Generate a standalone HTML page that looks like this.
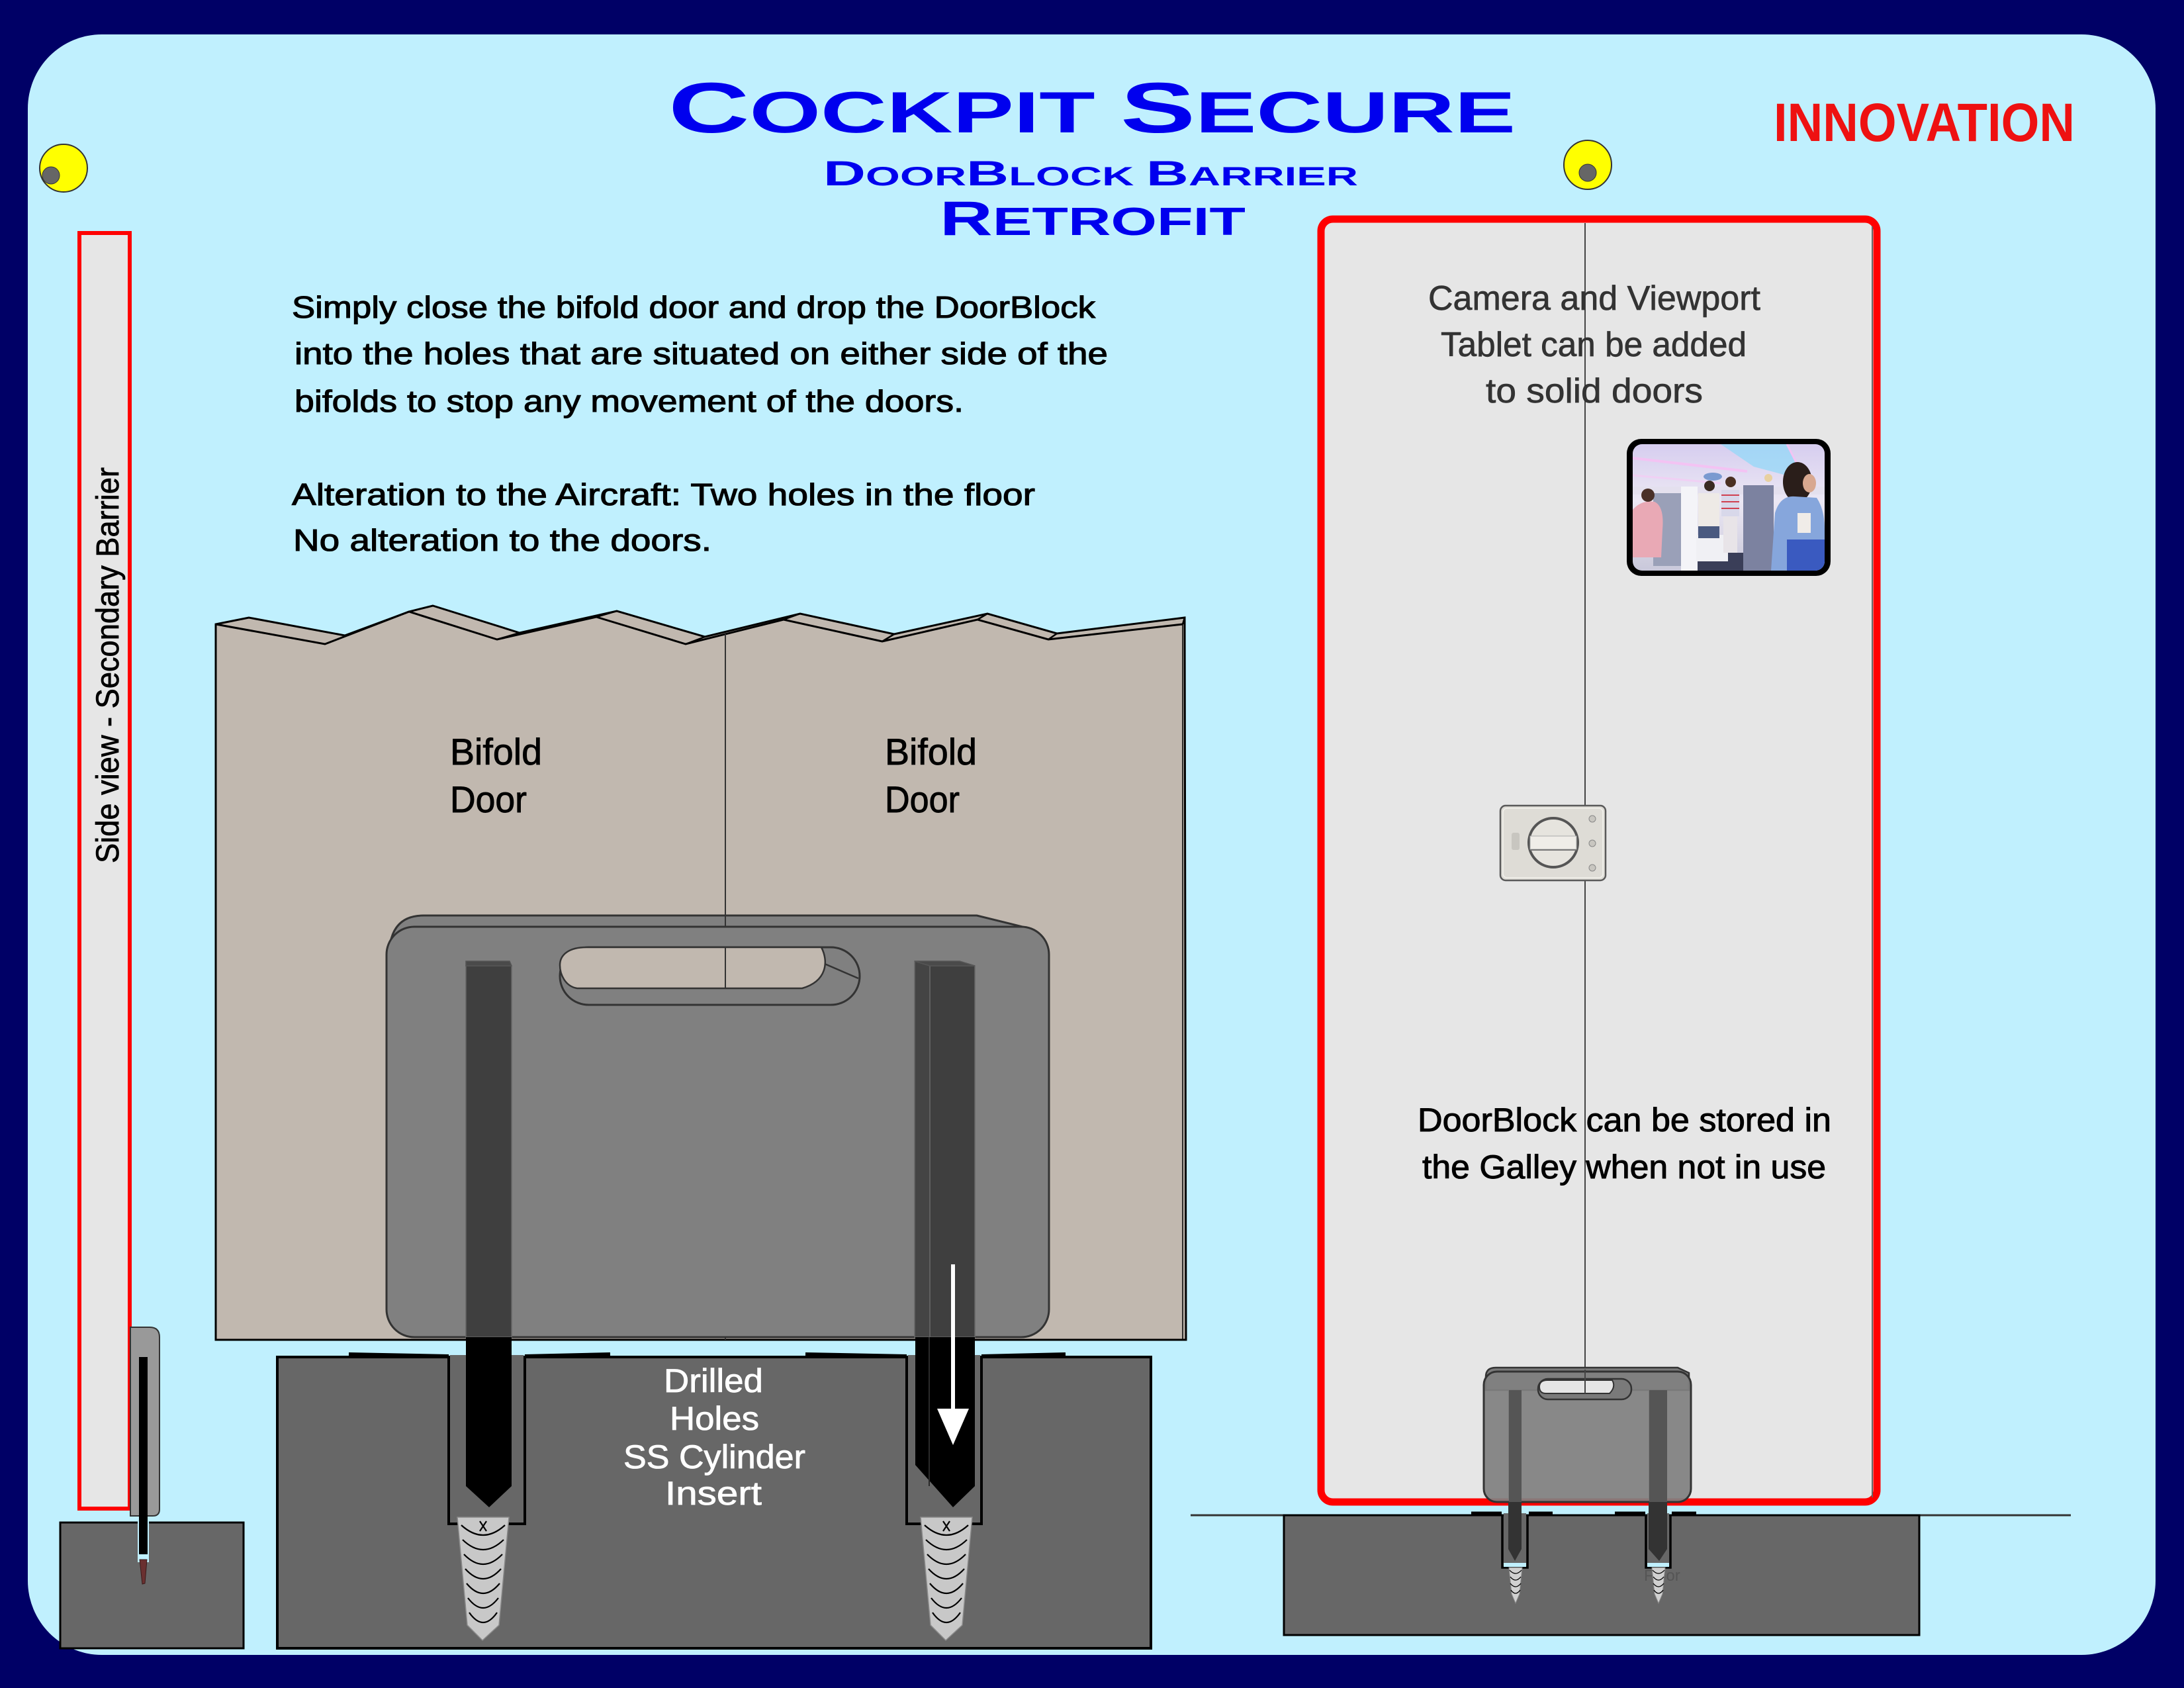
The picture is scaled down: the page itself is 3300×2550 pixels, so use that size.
<!DOCTYPE html>
<html><head><meta charset="utf-8"><style>
html,body{margin:0;padding:0;background:#000066;}
svg{display:block;}
text{font-family:"Liberation Sans",sans-serif;}
</style></head><body>
<svg width="3300" height="2550" viewBox="0 0 3300 2550" xmlns="http://www.w3.org/2000/svg">
<defs>
<g id="screw">
<polygon points="691,2292 769,2292 754,2455 729,2478 706,2455" fill="#C8C8C8" stroke="#8a8a8a" stroke-width="1.5"/>
<g fill="none" stroke="#000" stroke-width="2.2">
<path d="M697,2304 Q730,2334 763,2304"/>
<path d="M699,2326 Q730,2356 761,2326"/>
<path d="M701,2348 Q730,2378 759,2348"/>
<path d="M703,2370 Q730,2400 757,2370"/>
<path d="M705,2392 Q730,2422 755,2392"/>
<path d="M707,2414 Q730,2444 753,2414"/>
<path d="M709,2436 Q730,2466 751,2436"/>
<path d="M725,2298 L735,2313 M735,2298 L725,2313"/>
</g>
</g>
<g id="sscrew">
<polygon points="-10,2368 10,2368 6,2408 0,2422 -6,2408" fill="#D0D0D0" stroke="#888" stroke-width="1"/>
<g fill="none" stroke="#000" stroke-width="1.3">
<path d="M-9,2372 Q0,2382 9,2372"/>
<path d="M-8,2382 Q0,2392 8,2382"/>
<path d="M-8,2392 Q0,2402 8,2392"/>
<path d="M-7,2402 Q0,2412 7,2402"/>
</g>
</g>
<clipPath id="tab"><rect x="2467" y="671" width="290" height="191" rx="14"/></clipPath>
<linearGradient id="cab" x1="0" y1="0" x2="0" y2="1">
<stop offset="0" stop-color="#d6cdef"/><stop offset="0.45" stop-color="#ece8f4"/><stop offset="1" stop-color="#c9c8da"/>
</linearGradient>
</defs>

<rect width="3300" height="2550" fill="#000066"/>
<rect x="42" y="52" width="3215" height="2448" rx="112" fill="#C0F0FE"/>

<!-- yellow markers -->
<circle cx="96" cy="254" r="36" fill="#FFFF00" stroke="#333" stroke-width="2"/>
<circle cx="77" cy="265" r="13" fill="#666" stroke="#333" stroke-width="1"/>
<ellipse cx="2399" cy="249" rx="36" ry="37" fill="#FFFF00" stroke="#333" stroke-width="2"/>
<ellipse cx="2399" cy="261" rx="13" ry="13" fill="#666" stroke="#333" stroke-width="1"/>

<!-- titles -->
<text x="1010" y="200" textLength="1280" lengthAdjust="spacingAndGlyphs" fill="#0000EE" font-weight="bold"><tspan font-size="108">C</tspan><tspan font-size="88">OCKPIT </tspan><tspan font-size="108">S</tspan><tspan font-size="88">ECURE</tspan></text>
<text x="1244" y="280" textLength="808" lengthAdjust="spacingAndGlyphs" fill="#0000EE" font-weight="bold"><tspan font-size="53">D</tspan><tspan font-size="40">OOR</tspan><tspan font-size="53">B</tspan><tspan font-size="40">LOCK </tspan><tspan font-size="53">B</tspan><tspan font-size="40">ARRIER</tspan></text>
<text x="1420" y="355" textLength="462" lengthAdjust="spacingAndGlyphs" fill="#0000EE" font-weight="bold"><tspan font-size="73">R</tspan><tspan font-size="59">ETROFIT</tspan></text>
<text x="2680" y="213" textLength="455" lengthAdjust="spacingAndGlyphs" fill="#EE1111" font-weight="bold" font-size="82">INNOVATION</text>

<!-- paragraph -->
<g font-size="46" fill="#000" stroke="#000" stroke-width="1.1">
<text x="441" y="480" textLength="1214" lengthAdjust="spacingAndGlyphs">Simply close the bifold door and drop the DoorBlock</text>
<text x="445" y="550" textLength="1229" lengthAdjust="spacingAndGlyphs">into the holes that are situated on either side of the</text>
<text x="445" y="622" textLength="1011" lengthAdjust="spacingAndGlyphs">bifolds to stop any movement of the doors.</text>
<text x="441" y="763" textLength="1123" lengthAdjust="spacingAndGlyphs">Alteration to the Aircraft: Two holes in the floor</text>
<text x="443" y="832" textLength="632" lengthAdjust="spacingAndGlyphs">No alteration to the doors.</text>
</g>

<!-- left side view -->
<rect x="120" y="352" width="76" height="1927" fill="#E6E6E6" stroke="#FF0000" stroke-width="6"/>
<text transform="translate(179,1304) rotate(-90)" font-size="48" textLength="598" lengthAdjust="spacingAndGlyphs" fill="#000" stroke="#000" stroke-width="0.8">Side view - Secondary Barrier</text>
<path d="M197,2005 L226,2005 Q241,2005 241,2020 L241,2280 Q241,2290 231,2290 L197,2290 Z" fill="#999" stroke="#333" stroke-width="2"/>
<rect x="91" y="2300" width="277" height="190" fill="#676767" stroke="#000" stroke-width="3"/>
<rect x="208" y="2298" width="17" height="62" fill="#C0F0FE"/>
<rect x="210" y="2050" width="13" height="298" fill="#000"/>
<polygon points="211,2356 222,2356 219,2392 215,2393" fill="#6a3030" stroke="#3a1a1a" stroke-width="1"/>

<!-- bifold door -->
<polygon points="326,943 376,933 521,960 618,924 654,915 785,956 932,923 1065,962 1209,927 1351,958 1492,927 1597,957 1790,933 1792,2024 326,2024" fill="#C1B8AF" stroke="#000" stroke-width="3" stroke-linejoin="miter"/>
<polyline points="326,943 491,973 618,924 751,966 901,932 1036,973 1184,936 1333,969 1477,936 1584,966 1787,943" fill="none" stroke="#000" stroke-width="3"/>
<g stroke="#000" stroke-width="2.5">
<line x1="618" y1="924" x2="654" y2="915"/>
<line x1="751" y1="966" x2="785" y2="956"/>
<line x1="901" y1="932" x2="932" y2="923"/>
<line x1="1036" y1="973" x2="1065" y2="962"/>
<line x1="1184" y1="936" x2="1209" y2="927"/>
<line x1="1333" y1="969" x2="1351" y2="958"/>
<line x1="1477" y1="936" x2="1492" y2="927"/>
<line x1="1584" y1="966" x2="1597" y2="957"/>
<line x1="1787" y1="943" x2="1790" y2="933"/>
<line x1="1787" y1="943" x2="1787" y2="2024" stroke-width="1.5"/>
</g>
<line x1="1096" y1="958" x2="1096" y2="2024" stroke="#333" stroke-width="2"/>
<g font-size="56" fill="#000" stroke="#000" stroke-width="0.9">
<text x="680" y="1155" textLength="139" lengthAdjust="spacingAndGlyphs">Bifold</text>
<text x="680" y="1227" textLength="116" lengthAdjust="spacingAndGlyphs">Door</text>
<text x="1337" y="1155" textLength="139" lengthAdjust="spacingAndGlyphs">Bifold</text>
<text x="1337" y="1227" textLength="113" lengthAdjust="spacingAndGlyphs">Door</text>
</g>

<!-- main floor -->
<rect x="419" y="2050" width="1320" height="440" fill="#676767" stroke="#000" stroke-width="4"/>
<rect x="680" y="2047" width="111" height="6" fill="#676767"/>
<rect x="1372" y="2047" width="109" height="6" fill="#676767"/>
<g fill="none" stroke="#000">
<path d="M678,2050 V2302 H793 V2050" stroke-width="4"/>
<path d="M1370,2050 V2302 H1483 V2050" stroke-width="4"/>
<line x1="527" y1="2046" x2="678" y2="2049" stroke-width="6"/>
<line x1="793" y1="2049" x2="922" y2="2046" stroke-width="6"/>
<line x1="1217" y1="2046" x2="1370" y2="2049" stroke-width="6"/>
<line x1="1483" y1="2049" x2="1610" y2="2046" stroke-width="6"/>
</g>
<use href="#screw"/>
<use href="#screw" transform="translate(700,0)"/>
<g font-size="50" fill="#FFF" stroke="#FFF" stroke-width="0.8">
<text x="1003" y="2103" textLength="150" lengthAdjust="spacingAndGlyphs">Drilled</text>
<text x="1012" y="2160" textLength="135" lengthAdjust="spacingAndGlyphs">Holes</text>
<text x="942" y="2218" textLength="275" lengthAdjust="spacingAndGlyphs">SS Cylinder</text>
<text x="1005" y="2273" textLength="146" lengthAdjust="spacingAndGlyphs">Insert</text>
</g>

<!-- main doorblock -->
<path d="M588,1445 Q588,1383 640,1383 L1476,1383 L1553,1402 L1553,1500 L588,1500 Z" fill="#808080" stroke="#333" stroke-width="3"/>
<rect x="584" y="1400" width="1001" height="620" rx="42" fill="#808080" stroke="#333" stroke-width="3"/>
<rect x="846" y="1431" width="453" height="87" rx="43.5" fill="#808080" stroke="#333" stroke-width="3"/>
<path d="M886,1431 L1241,1431 C1252,1452 1250,1482 1212,1493 L872,1493 C854,1490 846,1472 846,1458 C846,1442 860,1431 886,1431 Z" fill="#C1B8AF" stroke="#333" stroke-width="2.5"/>
<line x1="1246" y1="1456" x2="1297" y2="1478" stroke="#333" stroke-width="2.5"/>
<line x1="1096" y1="1383" x2="1096" y2="1400" stroke="#333" stroke-width="2"/>
<line x1="1096" y1="1431" x2="1096" y2="1493" stroke="#333" stroke-width="2"/>
<!-- legs inside block -->
<rect x="704" y="1459" width="69" height="561" fill="#3f3f3f" stroke="#666" stroke-width="1.5"/>
<polygon points="704,1452 770,1452 773,1459 704,1459" fill="#4a4a4a" stroke="#555" stroke-width="1.5"/>
<rect x="1405" y="1459" width="68" height="561" fill="#3f3f3f" stroke="#666" stroke-width="1.5"/>
<polygon points="1382,1452 1405,1459 1405,2020 1382,2020" fill="#444" stroke="#666" stroke-width="1.5"/>
<polygon points="1382,1452 1450,1452 1473,1459 1405,1459" fill="#4a4a4a" stroke="#555" stroke-width="1.5"/>
<!-- legs below block -->
<polygon points="704,2020 773,2020 773,2245 739,2277 704,2245" fill="#000"/>
<polygon points="1383,2020 1473,2020 1473,2245 1440,2277 1383,2213" fill="#000"/>
<line x1="1404" y1="2020" x2="1404" y2="2245" stroke="#2a2a2a" stroke-width="2"/>
<!-- arrow -->
<line x1="1440" y1="1910" x2="1440" y2="2135" stroke="#FFF" stroke-width="6"/>
<polygon points="1416,2128 1464,2128 1440,2183" fill="#FFF"/>

<!-- right door -->
<rect x="1996" y="331" width="840" height="1938" rx="18" fill="#E6E6E6" stroke="#FF0000" stroke-width="11"/>
<line x1="2829" y1="342" x2="2829" y2="2262" stroke="#666" stroke-width="2"/>
<line x1="2395" y1="337" x2="2395" y2="2069" stroke="#444" stroke-width="2"/>
<g font-size="52" fill="#333" stroke="#333" stroke-width="0.7">
<text x="2158" y="468" textLength="502" lengthAdjust="spacingAndGlyphs">Camera and Viewport</text>
<text x="2177" y="538" textLength="462" lengthAdjust="spacingAndGlyphs">Tablet can be added</text>
<text x="2245" y="608" textLength="328" lengthAdjust="spacingAndGlyphs">to solid doors</text>
</g>
<g font-size="50" fill="#000" stroke="#000" stroke-width="1">
<text x="2142" y="1709" textLength="625" lengthAdjust="spacingAndGlyphs">DoorBlock can be stored in</text>
<text x="2149" y="1780" textLength="610" lengthAdjust="spacingAndGlyphs">the Galley when not in use</text>
</g>

<!-- tablet -->
<rect x="2458" y="663" width="308" height="207" rx="22" fill="#000"/>
<g clip-path="url(#tab)">
<rect x="2467" y="671" width="290" height="191" fill="url(#cab)"/>
<polygon points="2600,671 2700,671 2725,725 2650,705" fill="#8fd8f8" opacity="0.7"/>
<line x1="2467" y1="692" x2="2640" y2="712" stroke="#f3c3f3" stroke-width="4"/>
<line x1="2467" y1="718" x2="2600" y2="730" stroke="#f0d0f4" stroke-width="3"/>
<line x1="2700" y1="671" x2="2725" y2="720" stroke="#f3c3f3" stroke-width="3"/>
<rect x="2467" y="735" width="290" height="12" fill="#e4e0ee"/>
<rect x="2498" y="745" width="47" height="110" fill="#9aa0b8"/>
<path d="M2467,770 Q2480,755 2500,758 Q2515,765 2512,800 L2510,842 L2467,842 Z" fill="#e9a9b5"/>
<circle cx="2490" cy="748" r="10" fill="#4a3028"/>
<rect x="2540" y="735" width="25" height="127" fill="#f4f4f8"/>
<rect x="2565" y="835" width="115" height="27" fill="#3a3e58"/>
<rect x="2563" y="808" width="48" height="40" fill="#f0f0f4"/>
<rect x="2566" y="745" width="32" height="50" fill="#eeeae6"/>
<rect x="2566" y="795" width="32" height="18" fill="#4a5a80"/>
<circle cx="2583" cy="734" r="8" fill="#3a2a22"/>
<ellipse cx="2588" cy="720" rx="14" ry="6" fill="#7a9ad0"/>
<rect x="2601" y="740" width="27" height="40" fill="#d8d8ea"/>
<g stroke="#d04050" stroke-width="2"><line x1="2601" y1="748" x2="2628" y2="748"/><line x1="2601" y1="758" x2="2628" y2="758"/><line x1="2601" y1="768" x2="2628" y2="768"/></g>
<rect x="2604" y="780" width="21" height="55" fill="#e8e4e8"/>
<circle cx="2615" cy="728" r="8" fill="#4a3022"/>
<circle cx="2672" cy="722" r="6" fill="#e8d0a0"/>
<rect x="2634" y="733" width="46" height="129" fill="#7c82a0"/>
<ellipse cx="2716" cy="728" rx="22" ry="30" fill="#2a1e1a"/>
<ellipse cx="2734" cy="730" rx="10" ry="14" fill="#d8a890"/>
<path d="M2676,862 L2682,775 Q2690,748 2712,750 L2745,752 Q2757,770 2757,800 L2757,862 Z" fill="#86a6dc"/>
<rect x="2700" y="815" width="57" height="47" fill="#3a5ac0"/>
<rect x="2716" y="775" width="20" height="30" fill="#f0ece8"/>
</g>

<!-- lock -->
<rect x="2267" y="1217" width="159" height="113" rx="8" fill="#dedcd6" stroke="#5a5a5a" stroke-width="2.5"/>
<rect x="2271" y="1221" width="151" height="105" rx="6" fill="none" stroke="#f2f1ec" stroke-width="1.5"/>
<circle cx="2347" cy="1273" r="37" fill="#e6e4de" stroke="#555" stroke-width="4"/>
<rect x="2312" y="1263" width="70" height="20" fill="#efede8" stroke="#aaa" stroke-width="1"/>
<line x1="2312" y1="1284" x2="2382" y2="1284" stroke="#777" stroke-width="2"/>
<rect x="2284" y="1258" width="12" height="26" rx="3" fill="#c8c6c0"/>
<circle cx="2406" cy="1237" r="5" fill="#c8c6c0" stroke="#888"/>
<circle cx="2406" cy="1274" r="5" fill="#c8c6c0" stroke="#888"/>
<circle cx="2406" cy="1311" r="5" fill="#c8c6c0" stroke="#888"/>

<!-- right floor -->
<line x1="1799" y1="2289" x2="3129" y2="2289" stroke="#333" stroke-width="3"/>
<rect x="1940" y="2289" width="960" height="181" fill="#676767" stroke="#000" stroke-width="3"/>
<rect x="2272" y="2286" width="34" height="6" fill="#676767"/>
<rect x="2489" y="2286" width="33" height="6" fill="#676767"/>
<g fill="none" stroke="#000" stroke-width="3.5">
<path d="M2270,2289 V2368 H2308 V2289"/>
<path d="M2487,2289 V2368 H2524 V2289"/>
<line x1="2223" y1="2287" x2="2269" y2="2287" stroke-width="7"/>
<line x1="2310" y1="2287" x2="2346" y2="2287" stroke-width="7"/>
<line x1="2440" y1="2287" x2="2486" y2="2287" stroke-width="7"/>
<line x1="2526" y1="2287" x2="2563" y2="2287" stroke-width="7"/>
</g>
<rect x="2272" y="2361" width="34" height="6" fill="#C0F0FE"/>
<rect x="2489" y="2361" width="33" height="6" fill="#C0F0FE"/>
<text x="2484" y="2388" font-size="24" fill="#555">Floor</text>
<use href="#sscrew" transform="translate(2290,0)"/>
<use href="#sscrew" transform="translate(2506,0)"/>

<!-- small doorblock -->
<polygon points="2279,2100 2299,2100 2299,2340 2289,2358 2279,2340" fill="#333"/>
<polygon points="2491,2100 2519,2100 2519,2340 2507,2358 2491,2340" fill="#333"/>
<path d="M2245,2080 Q2245,2066 2260,2066 L2535,2066 L2552,2074 L2552,2100 L2245,2100 Z" fill="#7a7a7a" stroke="#333" stroke-width="2.5"/>
<rect x="2242" y="2072" width="313" height="197" rx="20" fill="#808080" fill-opacity="0.92" stroke="#333" stroke-width="3"/>
<rect x="2280" y="2100" width="19" height="169" fill="#555"/>
<rect x="2492" y="2100" width="27" height="169" fill="#555"/>
<rect x="2324" y="2083" width="141" height="31" rx="15" fill="#7a7a7a" stroke="#333" stroke-width="2.5"/>
<path d="M2338,2085 L2436,2085 Q2442,2095 2432,2105 L2336,2105 Q2326,2105 2326,2095 Q2326,2085 2338,2085 Z" fill="#E6E6E6" stroke="#333" stroke-width="2"/>
<line x1="2395" y1="2069" x2="2395" y2="2105" stroke="#444" stroke-width="2"/>
</svg>
</body></html>
